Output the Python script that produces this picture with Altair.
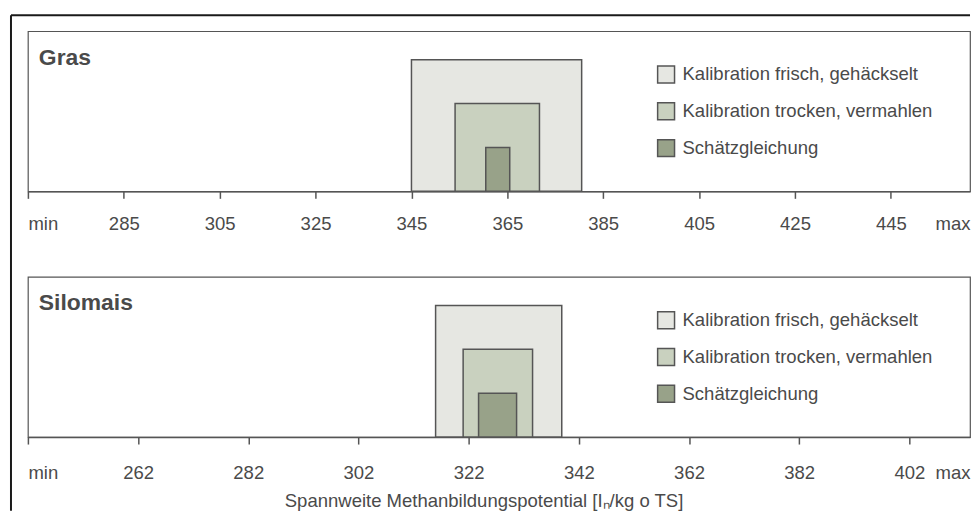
import altair as alt
import pandas as pd

# ---- data ----
categories = ["Kalibration frisch, gehäckselt", "Kalibration trocken, vermahlen", "Schätzgleichung"]
colors = ["#E6E7E2", "#C9D1BF", "#98A289"]
levels = [3, 2, 1]

gras_lo = [345.0, 354.1, 360.5]
gras_hi = [380.5, 371.7, 365.5]
gras_ticks = [265, 285, 305, 325, 345, 365, 385, 405, 425, 445, 461.5]
gras_labels = ["min", "285", "305", "325", "345", "365", "385", "405", "425", "445", "max"]

silo_lo = [316.0, 321.0, 323.8]
silo_hi = [338.9, 333.6, 330.7]
silo_ticks = [242, 262, 282, 302, 322, 342, 362, 382, 402, 413]
silo_labels = ["min", "262", "282", "302", "322", "342", "362", "382", "402", "max"]

x_title = "Spannweite Methanbildungspotential [Iₙ/kg o TS]"

FONT = "Liberation Sans"
TXT = "#4a4a4a"
LINE = "#555555"
W, H = 947, 161
FS = 18.6


def label_expr(ticks, labels):
    parts = []
    for t, l in zip(ticks, labels):
        parts.append(f"datum.value == {t} ? '{l}'")
    return " : ".join(parts) + " : ''"


def panel(name, lo, hi, ticks, labels, show_title, frame, label_pad):
    df = pd.DataFrame({"cat": categories, "lo": lo, "hi": hi, "h": levels})
    axis_kw = dict(
        values=ticks,
        labelExpr=label_expr(ticks, labels),
        labelFlush=True,
        labelOverlap=False,
        grid=False,
        domainColor=LINE, domainWidth=1.5, tickSize=7, tickWidth=1.5,
        labelFontSize=FS, labelFont=FONT, labelColor=TXT, labelPadding=label_pad,
        tickColor={"condition": {"test": f"datum.value == {ticks[-1]}", "value": "transparent"}, "value": LINE},
    )
    if show_title:
        axis_kw.update(title=x_title, titleX=458, titleY=64, titleBaseline="middle",
                       titleAlign="center", titleFontSize=FS, titleFont=FONT,
                       titleColor=TXT, titleFontWeight="normal")
    else:
        axis_kw.update(title=None)

    bars = alt.Chart(df).mark_bar(stroke=LINE, strokeWidth=1.5, opacity=1).encode(
        x=alt.X("lo:Q", scale=alt.Scale(domain=[ticks[0], ticks[-1]], nice=False, zero=False),
                axis=alt.Axis(**axis_kw)),
        x2="hi:Q",
        y=alt.Y("h:Q", scale=alt.Scale(domain=[0, 3.65]), axis=None),
        y2=alt.datum(0),
        color=alt.Color("cat:N", scale=alt.Scale(domain=categories, range=colors),
                        sort=categories,
                        legend=alt.Legend(title=None, orient="none", legendX=632, legendY=34,
                                          symbolType="square", symbolSize=289,
                                          symbolStrokeColor=LINE, symbolStrokeWidth=1.5,
                                          symbolOpacity=1,
                                          labelFontSize=FS, labelFont=FONT, labelColor=TXT,
                                          labelOffset=7, labelLimit=0, rowPadding=14,
                                          padding=0)),
        order=alt.Order("h:Q", sort="descending"),
    )
    title = alt.Chart(pd.DataFrame({"t": [name]})).mark_text(
        align="left", baseline="alphabetic", fontSize=23, fontWeight="bold",
        font=FONT, color=TXT
    ).encode(text="t:N", x=alt.value(11), y=alt.value(33.5))
    layers = [bars, title]
    if frame:
        fdf = pd.DataFrame({"k": [0]})
        vline = alt.Chart(fdf).mark_rule(color="#1a1a1a", strokeWidth=2).encode(
            x=alt.value(-17), y=alt.value(-16), y2=alt.value(482))
        hline = alt.Chart(fdf).mark_rule(color="#1a1a1a", strokeWidth=2).encode(
            x=alt.value(-17), x2=alt.value(W), y=alt.value(-16))
        layers += [vline, hline]
    return alt.layer(*layers).properties(width=W, height=H)


top = panel("Gras", gras_lo, gras_hi, gras_ticks, gras_labels, False, True, 16)
bottom = panel("Silomais", silo_lo, silo_hi, silo_ticks, silo_labels, True, False, 20)

chart = alt.vconcat(top, bottom, spacing=86, bounds="flush").resolve_scale(
    color="independent", x="independent"
).resolve_legend(color="independent").properties(
    padding={"top": 4, "left": 1, "right": 0, "bottom": 0},
    background="white",
).configure_view(
    stroke=LINE, strokeWidth=1.2, fill="white"
)

chart.save("out.html", embed_options={"renderer": "svg", "actions": False})
